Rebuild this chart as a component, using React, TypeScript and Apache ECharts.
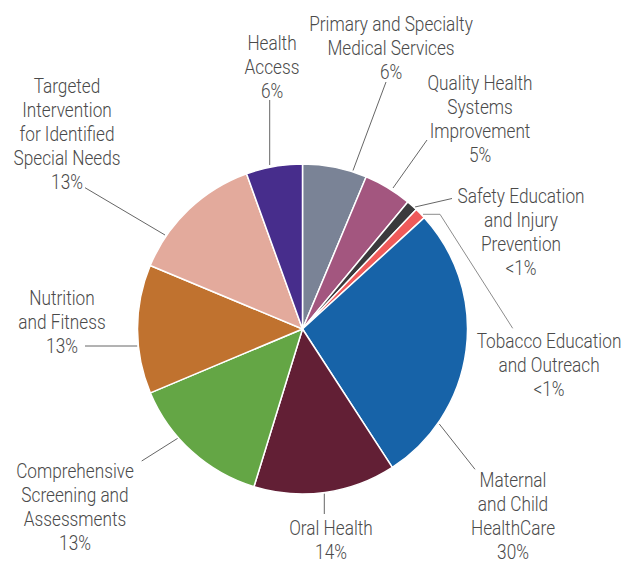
import React, { useEffect, useRef } from "react";
import * as echarts from "echarts";

const categories = [
  "Primary and Specialty\nMedical Services",
  "Quality Health\nSystems\nImprovement",
  "Safety Education\nand Injury\nPrevention",
  "Tobacco Education\nand Outreach",
  "Maternal\nand Child\nHealthCare",
  "Oral Health",
  "Comprehensive\nScreening and\nAssessments",
  "Nutrition\nand Fitness",
  "Targeted\nIntervention\nfor Identified\nSpecial Needs",
  "Health\nAccess",
];
// slice shares as drawn
const values = [6.3, 4.7, 1.1, 1.1, 27.6, 13.9, 13.9, 12.6, 13.2, 5.5];
// printed percentage labels
const pctLabels = ["6%", "5%", "<1%", "<1%", "30%", "14%", "13%", "13%", "13%", "6%"];
const colors = [
  "#7a8396", "#a3567f", "#3a3a3c", "#ef5a5a", "#1763a8",
  "#621f35", "#64a645", "#c0722f", "#e3aa9c", "#472d8c",
];

// label block centres and leader-line points (layout only)
const labelPos: [number, number][] = [
  [391, 47.8],
  [480, 119.2],
  [521, 232.3],
  [549, 365],
  [513, 515.5],
  [331, 539.5],
  [75, 506.7],
  [62, 322.2],
  [67, 133.7],
  [272, 66.7],
];
const leaderPts: [number, number][][] = [
  [[353, 170.5], [386, 82]],
  [[393, 188], [427, 140]],
  [[415, 207], [452, 198.5]],
  [[423, 214.3], [440, 214.3], [512.7, 328.3]],
  [[439.3, 424], [475, 469.3]],
  [[324.3, 493.5], [324.3, 514]],
  [[177.7, 438.3], [141.7, 461]],
  [[137.3, 346], [85, 346]],
  [[165, 235], [85, 187.7]],
  [[269.7, 165], [269.7, 100]],
];

export default function App() {
  const ref = useRef<HTMLDivElement>(null);
  useEffect(() => {
    if (!ref.current) return;
    const chart = echarts.init(ref.current, null, { renderer: "svg" });
    const data = categories.map((name, i) => ({
      name,
      value: values[i],
      itemStyle: { color: colors[i] },
    }));
    const graphics: any[] = [];
    categories.forEach((name, i) => {
      graphics.push({
        type: "polyline",
        silent: true,
        shape: { points: leaderPts[i] },
        style: {
          stroke: i === 3 ? "#8c8c8c" : "#666666",
          lineWidth: 1,
          fill: null,
        },
      });
      graphics.push({
        type: "text",
        silent: true,
        x: labelPos[i][0],
        y: labelPos[i][1],
        scaleX: 0.82,
        style: {
          text: `${name}\n${pctLabels[i]}`,
          fill: "#4a4a4a",
          fontSize: 21,
          fontWeight: 300,
          lineHeight: 24,
          fontFamily: "Roboto, sans-serif",
          align: "center",
          verticalAlign: "middle",
        },
      });
    });
    chart.setOption({
      animation: false,
      backgroundColor: "#ffffff",
      series: [
        {
          type: "pie",
          center: [302.5, 329],
          radius: 165,
          startAngle: 90,
          clockwise: true,
          data,
          itemStyle: { borderColor: "#ffffff", borderWidth: 1.5 },
          label: { show: false },
          labelLine: { show: false },
          emphasis: { disabled: true },
        },
      ],
      graphic: graphics,
    });
    return () => chart.dispose();
  }, []);
  return (
    <div
      ref={ref}
      style={{ position: "fixed", left: 0, top: 0, width: 635, height: 564 }}
    />
  );
}
